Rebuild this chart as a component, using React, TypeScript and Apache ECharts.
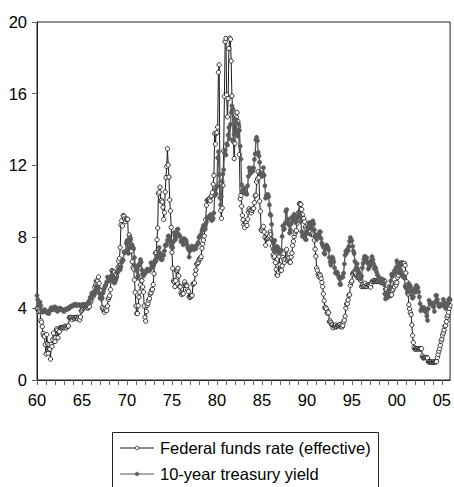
import React, { useEffect, useRef } from "react";
import * as echarts from "echarts";

// Monthly data, 1960M01 - 2005M12
const startYear = 1960;
const endYear = 2005;

const fedFunds1960s = [
  3.99, 3.97, 3.84, 3.92, 3.85, 3.32, 3.23, 2.98, 2.6, 2.47, 2.44, 1.98,
  1.45, 2.54, 2.02, 1.49, 1.98, 1.73, 1.17, 2.0, 1.88, 2.26, 2.62, 2.33,
  2.15, 2.37, 2.85, 2.78, 2.36, 2.68, 2.71, 2.93, 2.9, 2.9, 2.94, 2.93,
  2.92, 3.0, 2.98, 2.9, 3.0, 2.99, 3.02, 3.49, 3.48, 3.5, 3.48, 3.38,
  3.48, 3.48, 3.43, 3.47, 3.5, 3.5, 3.42, 3.5, 3.45, 3.36, 3.52, 3.85,
  3.9, 3.98, 4.04, 4.09, 4.1, 4.04, 4.09, 4.12, 4.01, 4.08, 4.1, 4.32,
  4.42, 4.6, 4.65, 4.67, 4.9, 5.17, 5.3, 5.53, 5.4, 5.53, 5.76, 5.4,
  4.94, 5.0, 4.53, 4.05, 3.94, 3.98, 3.79, 3.9, 3.99, 3.88, 4.13, 4.51,
  4.61, 4.71, 5.05, 5.76, 6.11, 6.07, 6.02, 6.03, 5.78, 5.91, 5.82, 6.02,
  6.3, 6.64, 6.79, 7.41, 8.67, 8.9, 8.61, 9.19, 9.15, 9.0, 8.85, 8.97,
];
const fedFunds1970s = [
  8.98, 8.98, 7.76, 8.1, 7.95, 7.61, 7.21, 6.61, 6.29, 6.2, 5.6, 4.9,
  4.14, 3.72, 3.71, 4.15, 4.63, 4.91, 5.31, 5.57, 5.55, 5.2, 4.91, 4.14,
  3.5, 3.29, 3.83, 4.17, 4.27, 4.46, 4.55, 4.8, 4.87, 5.04, 5.06, 5.33,
  5.94, 6.58, 7.09, 7.12, 7.84, 8.49, 10.4, 10.5, 10.78, 10.01, 10.03, 9.95,
  9.65, 8.97, 9.35, 10.51, 11.31, 11.93, 12.92, 12.01, 11.34, 10.06, 9.45, 8.53,
  7.13, 6.24, 5.54, 5.49, 5.22, 5.55, 6.1, 6.14, 6.24, 5.82, 5.22, 5.2,
  4.87, 4.77, 4.84, 4.82, 5.29, 5.48, 5.31, 5.29, 5.25, 5.03, 4.95, 4.65,
  4.61, 4.68, 4.69, 4.73, 5.35, 5.39, 5.42, 5.9, 6.14, 6.47, 6.51, 6.56,
  6.7, 6.78, 6.79, 6.89, 7.36, 7.6, 7.81, 8.04, 8.45, 8.96, 9.76, 10.03,
  10.07, 10.06, 10.09, 10.01, 10.24, 10.29, 10.47, 10.94, 11.43, 13.77, 13.18, 13.78,
];
const fedFunds1980s = [
  13.82, 14.13, 17.19, 17.61, 10.98, 9.47, 9.03, 9.61, 10.87, 12.81, 15.85, 18.9,
  19.08, 15.93, 14.7, 15.72, 18.52, 19.1, 19.04, 17.82, 15.87, 15.08, 13.31, 12.37,
  13.22, 14.78, 14.68, 14.94, 14.45, 14.15, 12.59, 10.12, 10.31, 9.71, 9.2, 8.95,
  8.68, 8.51, 8.77, 8.8, 8.63, 8.98, 9.37, 9.56, 9.45, 9.48, 9.34, 9.47,
  9.56, 9.59, 9.91, 10.29, 10.32, 11.06, 11.23, 11.64, 11.3, 9.99, 9.43, 8.38,
  8.35, 8.5, 8.58, 8.27, 7.97, 7.53, 7.88, 7.9, 7.92, 7.99, 8.05, 8.27,
  8.14, 7.86, 7.48, 6.99, 6.85, 6.92, 6.56, 6.17, 5.89, 5.85, 6.04, 6.91,
  6.43, 6.1, 6.13, 6.37, 6.85, 6.73, 6.58, 6.73, 7.22, 7.29, 6.69, 6.77,
  6.83, 6.58, 6.58, 6.87, 7.09, 7.51, 7.75, 8.01, 8.19, 8.3, 8.35, 8.76,
  9.12, 9.36, 9.85, 9.84, 9.81, 9.53, 9.24, 8.99, 9.02, 8.84, 8.55, 8.45,
];
const fedFunds1990s = [
  8.23, 8.24, 8.28, 8.26, 8.18, 8.29, 8.15, 8.13, 8.2, 8.11, 7.81, 7.31,
  6.91, 6.25, 6.12, 5.91, 5.78, 5.9, 5.82, 5.66, 5.45, 5.21, 4.81, 4.43,
  4.03, 4.06, 3.98, 3.73, 3.82, 3.76, 3.25, 3.3, 3.22, 3.1, 3.09, 2.92,
  3.02, 3.03, 3.07, 2.96, 3.0, 3.04, 3.06, 3.03, 3.09, 2.99, 3.02, 2.96,
  3.05, 3.25, 3.34, 3.56, 4.01, 4.25, 4.26, 4.47, 4.73, 4.76, 5.29, 5.45,
  5.53, 5.92, 5.98, 6.05, 6.01, 6.0, 5.85, 5.74, 5.8, 5.76, 5.8, 5.6,
  5.56, 5.22, 5.31, 5.22, 5.24, 5.27, 5.4, 5.22, 5.3, 5.24, 5.31, 5.29,
  5.25, 5.19, 5.39, 5.51, 5.5, 5.56, 5.52, 5.54, 5.54, 5.5, 5.52, 5.5,
  5.56, 5.51, 5.49, 5.45, 5.49, 5.56, 5.54, 5.55, 5.51, 5.07, 4.83, 4.68,
  4.63, 4.76, 4.81, 4.74, 4.74, 4.76, 4.99, 5.07, 5.22, 5.2, 5.42, 5.3,
];
const fedFunds2000s = [
  5.45, 5.73, 5.85, 6.02, 6.27, 6.53, 6.54, 6.5, 6.52, 6.51, 6.51, 6.4,
  5.98, 5.49, 5.31, 4.8, 4.21, 3.97, 3.77, 3.65, 3.07, 2.49, 2.09, 1.82,
  1.73, 1.74, 1.73, 1.75, 1.75, 1.75, 1.73, 1.74, 1.75, 1.75, 1.34, 1.24,
  1.24, 1.26, 1.25, 1.26, 1.26, 1.22, 1.01, 1.03, 1.01, 1.01, 1.0, 0.98,
  1.0, 1.01, 1.0, 1.0, 1.0, 1.03, 1.26, 1.43, 1.61, 1.76, 1.93, 2.16,
  2.28, 2.5, 2.63, 2.79, 3.0, 3.04, 3.26, 3.5, 3.62, 3.78, 4.0, 4.16,
];

const treasury1960s = [
  4.72, 4.49, 4.25, 4.28, 4.35, 4.15, 3.9, 3.8, 3.8, 3.89, 3.93, 3.84,
  3.84, 3.78, 3.74, 3.78, 3.71, 3.88, 3.92, 4.04, 3.98, 3.92, 3.94, 4.06,
  4.08, 4.04, 3.93, 3.84, 3.87, 3.91, 4.01, 3.98, 3.98, 3.93, 3.92, 3.86,
  3.83, 3.92, 3.93, 3.97, 3.93, 3.99, 4.02, 4.0, 4.08, 4.11, 4.12, 4.13,
  4.17, 4.15, 4.22, 4.23, 4.2, 4.17, 4.19, 4.19, 4.2, 4.19, 4.15, 4.18,
  4.19, 4.21, 4.21, 4.2, 4.21, 4.21, 4.2, 4.25, 4.29, 4.35, 4.45, 4.62,
  4.61, 4.83, 4.87, 4.75, 4.78, 4.81, 5.02, 5.22, 5.18, 5.01, 5.16, 4.84,
  4.58, 4.63, 4.54, 4.59, 4.85, 5.02, 5.16, 5.28, 5.3, 5.48, 5.75, 5.7,
  5.53, 5.56, 5.74, 5.64, 5.87, 5.72, 5.5, 5.42, 5.46, 5.58, 5.7, 6.03,
  6.04, 6.19, 6.3, 6.17, 6.32, 6.57, 6.72, 6.69, 7.16, 7.1, 7.14, 7.65,
];
const treasury1970s = [
  7.79, 7.24, 7.07, 7.39, 7.91, 7.84, 7.46, 7.53, 7.39, 7.33, 6.84, 6.39,
  6.24, 6.11, 5.7, 5.83, 6.39, 6.52, 6.73, 6.58, 6.14, 5.93, 5.81, 5.93,
  5.95, 6.08, 6.07, 6.19, 6.13, 6.11, 6.11, 6.21, 6.55, 6.48, 6.28, 6.36,
  6.46, 6.64, 6.71, 6.67, 6.85, 6.9, 7.13, 7.4, 7.09, 6.79, 6.73, 6.74,
  6.99, 6.96, 7.21, 7.51, 7.58, 7.54, 7.81, 8.04, 8.04, 7.9, 7.68, 7.43,
  7.5, 7.39, 7.73, 8.23, 8.06, 7.86, 8.06, 8.4, 8.43, 8.14, 8.05, 8.0,
  7.74, 7.79, 7.73, 7.56, 7.9, 7.86, 7.83, 7.77, 7.59, 7.41, 7.29, 6.87,
  7.21, 7.39, 7.46, 7.37, 7.46, 7.28, 7.33, 7.4, 7.34, 7.52, 7.58, 7.69,
  7.96, 8.03, 8.04, 8.15, 8.35, 8.46, 8.64, 8.41, 8.42, 8.64, 8.81, 9.01,
  9.1, 9.1, 9.12, 9.18, 9.25, 8.91, 8.95, 9.03, 9.33, 10.3, 10.65, 10.39,
];
const treasury1980s = [
  10.8, 12.41, 12.75, 11.47, 10.18, 9.78, 10.25, 11.1, 11.51, 11.75, 12.68, 12.84,
  12.57, 13.19, 13.12, 13.68, 14.1, 13.47, 14.28, 14.94, 15.32, 15.15, 13.39, 13.72,
  14.59, 14.43, 13.86, 13.87, 13.62, 14.3, 13.95, 13.06, 12.34, 10.91, 10.55, 10.54,
  10.46, 10.72, 10.51, 10.4, 10.38, 10.85, 11.38, 11.85, 11.65, 11.54, 11.69, 11.83,
  11.67, 11.84, 12.32, 12.63, 13.41, 13.56, 13.36, 12.72, 12.52, 12.16, 11.57, 11.5,
  11.38, 11.51, 11.86, 11.43, 10.85, 10.16, 10.31, 10.33, 10.37, 10.24, 9.78, 9.26,
  9.19, 8.7, 7.78, 7.3, 7.71, 7.8, 7.3, 7.17, 7.45, 7.43, 7.25, 7.11,
  7.08, 7.25, 7.25, 8.02, 8.61, 8.4, 8.45, 8.76, 9.42, 9.52, 8.86, 8.99,
  8.67, 8.21, 8.37, 8.72, 9.09, 8.92, 9.06, 9.26, 8.98, 8.8, 8.96, 9.11,
  9.09, 9.17, 9.36, 9.18, 8.86, 8.28, 8.02, 8.11, 8.19, 8.01, 7.87, 7.84,
];
const treasury1990s = [
  8.21, 8.47, 8.59, 8.79, 8.76, 8.48, 8.47, 8.75, 8.89, 8.72, 8.39, 8.08,
  8.09, 7.85, 8.11, 8.04, 8.07, 8.28, 8.27, 7.9, 7.65, 7.53, 7.42, 7.09,
  7.03, 7.34, 7.54, 7.48, 7.39, 7.26, 6.84, 6.59, 6.42, 6.59, 6.87, 6.77,
  6.6, 6.26, 5.98, 5.97, 6.04, 5.96, 5.81, 5.68, 5.36, 5.33, 5.72, 5.77,
  5.75, 5.97, 6.48, 6.97, 7.18, 7.1, 7.3, 7.24, 7.46, 7.74, 7.96, 7.81,
  7.78, 7.47, 7.2, 7.06, 6.63, 6.17, 6.28, 6.49, 6.2, 6.04, 5.93, 5.71,
  5.65, 5.81, 6.27, 6.51, 6.74, 6.91, 6.87, 6.64, 6.83, 6.53, 6.2, 6.3,
  6.58, 6.42, 6.69, 6.89, 6.71, 6.49, 6.22, 6.3, 6.21, 6.03, 5.88, 5.81,
  5.54, 5.57, 5.65, 5.64, 5.65, 5.5, 5.46, 5.34, 4.81, 4.53, 4.83, 4.65,
  4.72, 5.0, 5.23, 5.18, 5.54, 5.9, 5.79, 5.94, 5.92, 6.11, 6.03, 6.28,
];
const treasury2000s = [
  6.66, 6.52, 6.26, 5.99, 6.44, 6.1, 6.05, 5.83, 5.8, 5.74, 5.72, 5.24,
  5.16, 5.1, 4.89, 5.14, 5.39, 5.28, 5.24, 4.97, 4.73, 4.57, 4.65, 5.09,
  5.04, 4.91, 5.28, 5.21, 5.16, 4.93, 4.65, 4.26, 3.87, 3.94, 4.05, 4.03,
  4.05, 3.9, 3.81, 3.96, 3.57, 3.33, 3.98, 4.45, 4.27, 4.29, 4.3, 4.27,
  4.15, 4.08, 3.83, 4.35, 4.72, 4.73, 4.5, 4.28, 4.13, 4.1, 4.19, 4.23,
  4.22, 4.17, 4.5, 4.34, 4.14, 4.0, 4.18, 4.26, 4.2, 4.46, 4.54, 4.47,
];

const yTicks = [0, 4, 8, 12, 16, 20];
const seriesNames = ["Federal funds rate (effective)", "10-year treasury yield"];

const fedFunds = [
  ...fedFunds1960s, ...fedFunds1970s, ...fedFunds1980s, ...fedFunds1990s, ...fedFunds2000s,
];
const treasury10 = [
  ...treasury1960s, ...treasury1970s, ...treasury1980s, ...treasury1990s, ...treasury2000s,
];

const months: string[] = [];
for (let y = startYear; y <= endYear; y++) {
  for (let m = 1; m <= 12; m++) months.push(`${y}M${m}`);
}

const FONT = "'Liberation Sans', Arial, sans-serif";
const FF_LINE = "#1a1a1a";
const TY_LINE = "#555";
const TY_FILL = "#5c5c5c";

function legendRow(y: number, name: string, line: string, fill: string, stroke: string) {
  return [
    { type: "line", shape: { x1: 120, y1: y, x2: 154, y2: y }, style: { stroke: line, lineWidth: 1 }, silent: true },
    { type: "circle", shape: { cx: 137, cy: y, r: 1.8 }, style: { fill, stroke, lineWidth: 0.8 }, silent: true },
    {
      type: "text",
      x: 160,
      y,
      style: { text: name, fontSize: 16.5, fontFamily: FONT, fill: "#000", verticalAlign: "middle", align: "left" },
      silent: true,
    },
  ];
}

export default function App() {
  const ref = useRef<HTMLDivElement>(null);
  useEffect(() => {
    document.body.style.margin = "0";
    if (!ref.current) return;
    const chart = echarts.init(ref.current, undefined, { renderer: "svg" });
    chart.setOption({
      animation: false,
      backgroundColor: "#ffffff",
      textStyle: { fontFamily: FONT },
      grid: {
        left: 37,
        top: 22,
        right: 1,
        bottom: 107,
        show: true,
        borderColor: "#222",
        borderWidth: 1,
      },
      graphic: [
        {
          type: "rect",
          shape: { x: 112.5, y: 432.5, width: 266, height: 70 },
          style: { fill: "none", stroke: "#222", lineWidth: 1 },
          silent: true,
        },
        ...legendRow(448, seriesNames[0], FF_LINE, "#fff", FF_LINE),
        ...legendRow(474, seriesNames[1], TY_LINE, TY_FILL, TY_FILL),
      ],
      xAxis: {
        type: "category",
        data: months,
        boundaryGap: false,
        axisLine: { show: true, lineStyle: { color: "#222", width: 1 } },
        axisTick: {
          show: true,
          length: 5,
          interval: (i: number) => i % 12 === 0,
          lineStyle: { color: "#666" },
        },
        axisLabel: {
          interval: (i: number) => i % 60 === 0,
          formatter: (v: string) => v.slice(2, 4),
          fontSize: 16.5,
          color: "#000",
          margin: 11,
          fontFamily: FONT,
        },
        splitLine: { show: false },
      },
      yAxis: {
        type: "value",
        min: yTicks[0],
        max: yTicks[yTicks.length - 1],
        interval: 4,
        axisLine: { show: true, lineStyle: { color: "#222" } },
        axisTick: { show: true, length: 5, lineStyle: { color: "#666" } },
        axisLabel: { fontSize: 16.5, color: "#000", margin: 10, fontFamily: FONT },
        splitLine: { show: false },
      },
      series: [
        {
          name: seriesNames[0],
          type: "line",
          data: fedFunds,
          symbol: "circle",
          symbolSize: 4.3,
          showSymbol: true,
          showAllSymbol: true,
          lineStyle: { color: FF_LINE, width: 1 },
          itemStyle: { color: "#ffffff", borderColor: FF_LINE, borderWidth: 0.9 },
          emphasis: { disabled: true },
          z: 2,
        },
        {
          name: seriesNames[1],
          type: "line",
          data: treasury10,
          symbol: "circle",
          symbolSize: 4.3,
          showSymbol: true,
          showAllSymbol: true,
          lineStyle: { color: TY_LINE, width: 1.3 },
          itemStyle: { color: TY_FILL, borderColor: TY_FILL, borderWidth: 0.5 },
          emphasis: { disabled: true },
          z: 3,
        },
      ],
    });
    return () => chart.dispose();
  }, []);
  return <div ref={ref} style={{ width: 454, height: 487 }} />;
}
